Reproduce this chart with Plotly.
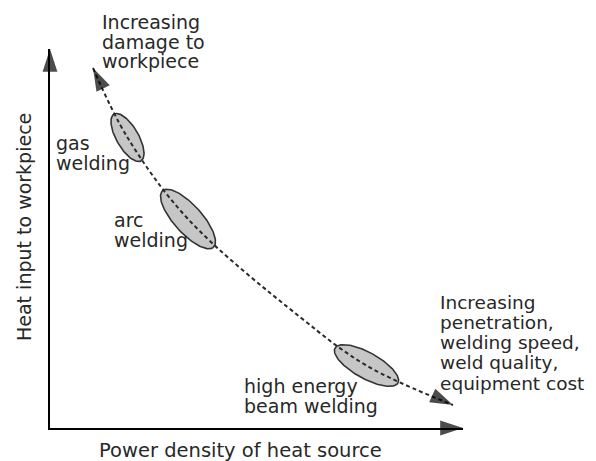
import numpy as np
import plotly.graph_objects as go

# trend line through the processes: power density (x) vs heat input (y), arbitrary units
power_density = [43, 77.5, 138, 250, 316.5, 403]
heat_input = [360, 290.5, 209, 111, 62.5, 23]

# welding processes sitting on the trend line
process_x = [77.5, 138, 316.5]
process_y = [290.5, 209, 62.5]
process_spread = [27, 38, 36]
process_width = [11, 14, 13]
process_tilt = [-60, -48, -29]

# text
damage_lines = ['Increasing', 'damage to', 'workpiece']
gas_lines = ['gas', 'welding']
arc_lines = ['arc', 'welding']
beam_lines = ['high energy', 'beam welding']
gain_lines = ['Increasing', 'penetration,', 'welding speed,', 'weld quality,', 'equipment cost']
x_title = 'Power density of heat source'
y_title = 'Heat input to workpiece'

W, H = 596, 461
PAGE = 8  # default body margin of the html page
M = dict(l=50 - PAGE, r=W - 463 + PAGE, t=49 - PAGE, b=H - 428 + PAGE)
X_MAX = W - M['l'] - M['r']
Y_MAX = H - M['t'] - M['b']
TEXT = '#282828'
FONT = 'DejaVu Sans'


def paper(px, py):
    """position on the page -> paper coordinates"""
    fx, fy = px - PAGE, py - PAGE
    return (fx - M['l']) / X_MAX, (H - M['b'] - fy) / Y_MAX


def arrowhead(xs, ys):
    return go.Scatter(
        x=xs, y=ys,
        mode='markers',
        marker=dict(symbol='arrow', size=[0, 24], angleref='previous',
                    color='black', line=dict(width=0)),
        cliponaxis=False,
        hoverinfo='skip'
    )


fig = go.Figure()

# process ellipses
t = np.linspace(0, 2 * np.pi, 120)
for cx, cy, a, b, ang in zip(process_x, process_y, process_spread, process_width, process_tilt):
    th = np.radians(ang)
    ex = cx + a * np.cos(t) * np.cos(th) - b * np.sin(t) * np.sin(th)
    ey = cy + a * np.cos(t) * np.sin(th) + b * np.sin(t) * np.cos(th)
    fig.add_trace(go.Scatter(
        x=ex, y=ey,
        mode='lines',
        fill='toself',
        fillcolor='#c6c6c6',
        line=dict(color='#333333', width=1.6),
        hoverinfo='skip'
    ))

# dashed trend line with arrowheads on both ends
fig.add_trace(go.Scatter(
    x=power_density, y=heat_input,
    mode='lines',
    line=dict(shape='spline', dash='4px,3px', width=2, color='#2a2a2a'),
    cliponaxis=False,
    hoverinfo='skip'
))
fig.add_trace(arrowhead(power_density[1::-1], heat_input[1::-1]))
fig.add_trace(arrowhead(power_density[-2:], heat_input[-2:]))

# axis arrowheads
fig.add_trace(arrowhead([0, X_MAX], [0, 0]))
fig.add_trace(arrowhead([0, 0], [0, Y_MAX]))


def add_label(lines, px, py, step=20, angle=0, anchor='left', size=19):
    for i, line in enumerate(lines):
        x, y = paper(px, py + i * step)
        fig.add_annotation(
            x=x, y=y, xref='paper', yref='paper',
            text=line, showarrow=False,
            xanchor=anchor, yanchor='middle',
            textangle=angle,
            font=dict(family=FONT, size=size, color=TEXT)
        )


add_label(damage_lines, 100, 21.5)
add_label(gas_lines, 54, 143)
add_label(arc_lines, 112, 220)
add_label(beam_lines, 242, 386)
add_label(gain_lines, 438, 302, step=20.25, size=18.5)
add_label([x_title], 240, 450, anchor='center', size=19.5)
add_label([y_title], 24, 227, angle=-90, anchor='center')

axis_style = dict(
    showline=True, linecolor='black', linewidth=2,
    showgrid=False, zeroline=False,
    showticklabels=False, ticks=''
)

fig.update_layout(
    width=W, height=H,
    margin=M,
    showlegend=False,
    plot_bgcolor='white',
    paper_bgcolor='white',
    xaxis=dict(range=[0, X_MAX], **axis_style),
    yaxis=dict(range=[0, Y_MAX], **axis_style),
    hovermode=False
)

fig.write_html("out.html")
